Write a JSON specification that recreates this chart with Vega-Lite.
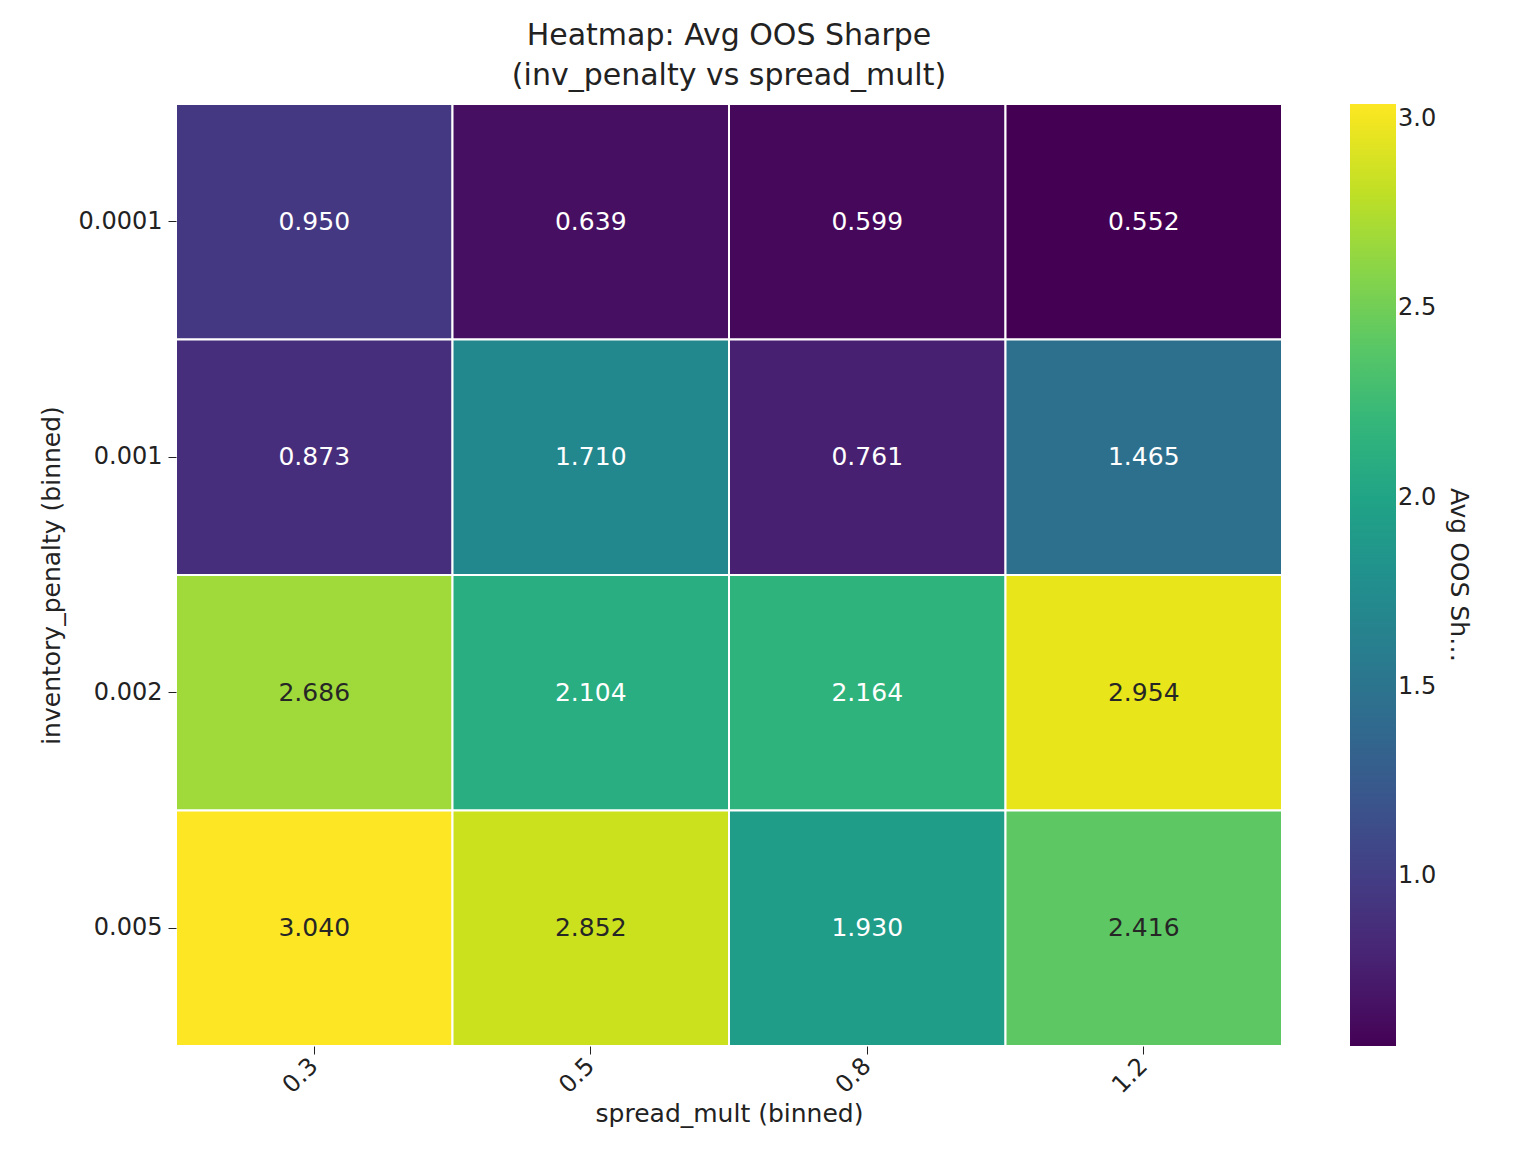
{
  "$schema": "https://vega.github.io/schema/vega-lite/v6.json",
  "autosize": "none",
  "padding": {"left": 176, "top": 104, "right": 232, "bottom": 110},
  "width": 1106,
  "height": 942,
  "background": "white",
  "title": {
    "text": ["Heatmap: Avg OOS Sharpe", "(inv_penalty vs spread_mult)"],
    "font": "DejaVu Sans",
    "fontSize": 30,
    "fontWeight": "normal",
    "color": "#222",
    "offset": 12,
    "lineHeight": 40
  },
  "config": {
    "font": "DejaVu Sans",
    "view": {"stroke": null},
    "axis": {"labelFont": "DejaVu Sans", "titleFont": "DejaVu Sans", "labelFontSize": 24, "titleFontSize": 25, "titleFontWeight": "normal", "labelColor": "#222", "titleColor": "#222", "tickColor": "#222", "tickSize": 8, "domain": false, "grid": false}
  },
  "data": {
    "values": [
      {"inv": "0.0001", "spread": "0.3", "sharpe": 0.950},
      {"inv": "0.0001", "spread": "0.5", "sharpe": 0.639},
      {"inv": "0.0001", "spread": "0.8", "sharpe": 0.599},
      {"inv": "0.0001", "spread": "1.2", "sharpe": 0.552},
      {"inv": "0.001", "spread": "0.3", "sharpe": 0.873},
      {"inv": "0.001", "spread": "0.5", "sharpe": 1.710},
      {"inv": "0.001", "spread": "0.8", "sharpe": 0.761},
      {"inv": "0.001", "spread": "1.2", "sharpe": 1.465},
      {"inv": "0.002", "spread": "0.3", "sharpe": 2.686},
      {"inv": "0.002", "spread": "0.5", "sharpe": 2.104},
      {"inv": "0.002", "spread": "0.8", "sharpe": 2.164},
      {"inv": "0.002", "spread": "1.2", "sharpe": 2.954},
      {"inv": "0.005", "spread": "0.3", "sharpe": 3.040},
      {"inv": "0.005", "spread": "0.5", "sharpe": 2.852},
      {"inv": "0.005", "spread": "0.8", "sharpe": 1.930},
      {"inv": "0.005", "spread": "1.2", "sharpe": 2.416}
    ]
  },
  "encoding": {
    "x": {"field": "spread", "type": "ordinal", "sort": ["0.3", "0.5", "0.8", "1.2"], "title": "spread_mult (binned)", "axis": {"labelAngle": -45, "labelAlign": "right", "labelBaseline": "middle", "labelPadding": 8, "titlePadding": 4}},
    "y": {"field": "inv", "type": "ordinal", "sort": ["0.0001", "0.001", "0.002", "0.005"], "title": "inventory_penalty (binned)", "axis": {"labelPadding": 6, "titlePadding": 14}}
  },
  "layer": [
    {
      "mark": {"type": "rect", "stroke": "white", "strokeWidth": 2},
      "encoding": {
        "color": {"field": "sharpe", "type": "quantitative", "title": "Avg OOS Sharpe",
          "scale": {"scheme": "viridis", "domain": [0.552, 3.04]},
          "legend": {"orient": "right", "offset": 68, "gradientLength": 942, "gradientThickness": 46, "gradientStrokeWidth": 0, "values": [1.0, 1.5, 2.0, 2.5, 3.0], "format": ".1f", "labelFontSize": 24, "labelColor": "#222", "titleFontSize": 25, "titleFontWeight": "normal", "titleColor": "#222", "titleOrient": "right", "titleAnchor": "middle", "titlePadding": 10, "tickCount": 5}}
      }
    },
    {
      "mark": {"type": "text", "fontSize": 25},
      "encoding": {
        "text": {"field": "sharpe", "type": "quantitative", "format": ".3f"},
        "color": {"condition": {"test": "datum.sharpe < 2.3", "value": "white"}, "value": "#262626"}
      }
    }
  ]
}
